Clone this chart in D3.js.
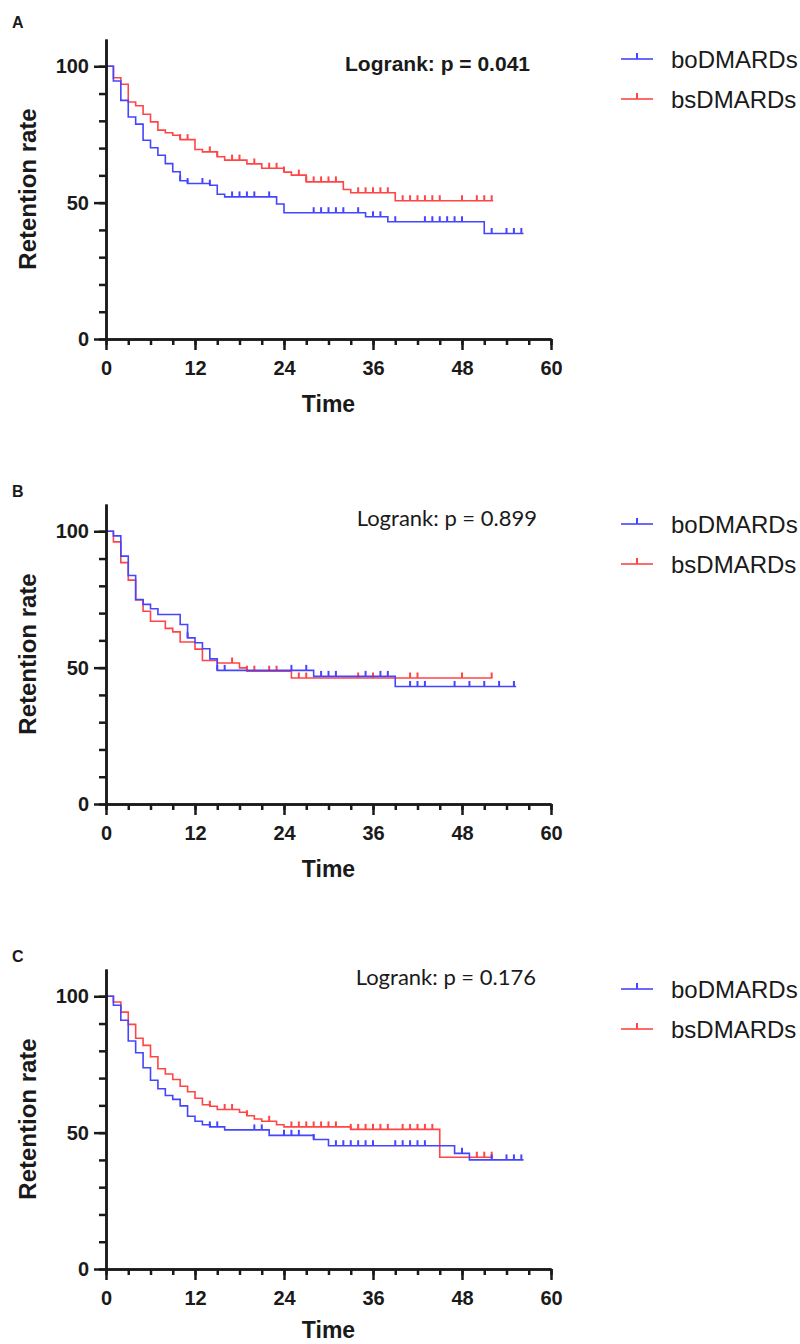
<!DOCTYPE html>
<html><head><meta charset="utf-8">
<script src="https://cdn.jsdelivr.net/npm/d3@7/dist/d3.min.js"></script>
<style>body{margin:0;background:#fff} svg{display:block}</style>
</head><body>
<script>
// ---------- DATA ----------
const groups = ["boDMARDs", "bsDMARDs"];
const xTicksMajor = [0, 12, 24, 36, 48, 60];
const yTicksMajor = [0, 50, 100];

// Panel A
const aBoTimes = [0,1,2,3,4,5,6,7,8,9,10,11,14,15,16,23,24,35,38,51,56.3];
const aBoSurv  = [100,94.6,87.5,81.4,78.8,72.9,70.1,67.4,64.3,61.3,58.0,57.0,56.4,53.1,52.1,49.5,46.3,44.8,43.0,38.7,38.7];
const aBoCens  = [10,11,13,14,17,18,19,20,22,28,29,30,31,32,34,36,37,39,43,44,45,46,47,48,52,54,55,56];
const aBsTimes = [0,1,2,3,4,5,6,7,8,9,10,12,13,15,16,19,21,24,25,27,32,33,39,52.2];
const aBsSurv  = [100,95.8,93.4,86.9,85.5,82.4,79.6,76.6,75.6,74.7,73.1,69.5,68.6,66.8,65.6,64.2,62.6,61.2,60.1,57.6,54.8,53.6,50.7,50.7];
const aBsCens  = [10,11,14,15,17,18,20,22,23,24,26,27,28,29,30,31,34,35,36,37,38,40,41,42,43,44,45,48,50,51,52];
const aTitle = "Logrank: p = 0.041";

// Panel B
const bBoTimes = [0,1,2,3,4,5,6,7,10,11,12,13,14,15,28,39,55.3];
const bBoSurv  = [100,98.3,90.9,83.8,75.0,73.2,71.6,69.5,65.8,60.9,59.1,56.9,53.2,49.0,46.8,43.1,43.1];
const bBoCens  = [11,15,16,25,27,29,30,31,35,37,38,41,42,43,47,49,51,53,55];
const bBsTimes = [0,1,2,3,4,5,6,8,9,10,12,13,15,18,19,25,52.1];
const bBsSurv  = [100,96.1,88.5,82.1,74.8,70.7,67.0,64.4,63.1,59.4,56.8,52.6,51.7,49.9,48.7,46.2,46.2];
const bBsCens  = [17,19,20,22,23,26,27,34,36,41,42,48,52];
const bTitle = "Logrank: p = 0.899";

// Panel C
const cBoTimes = [0,1,2,3,4,5,6,7,8,9,10,11,12,13,14,16,22,28,30,47,49,56.3];
const cBoSurv  = [100,96.7,91.2,83.6,79.3,73.8,69.2,66.1,63.6,62.2,59.8,56.0,54.2,52.9,52.1,51.0,49.0,47.5,45.2,42.4,40.0,40.0];
const cBoCens  = [14,15,20,21,24,25,26,28,31,32,33,34,35,36,39,40,41,42,43,48,52,54,55,56];
const cBsTimes = [0,1,2,3,4,5,6,7,8,9,10,11,12,13,14,15,18,19,20,21,23,24,33,45,52.2];
const cBsSurv  = [100,97.9,94.2,89.7,84.6,82.0,77.8,73.4,71.5,69.5,67.0,65.0,62.6,60.2,59.7,58.5,57.5,56.2,55.0,54.2,52.9,52.1,51.2,41.0,41.0];
const cBsCens  = [14,16,17,19,22,25,26,27,28,29,30,31,33,34,35,36,37,38,40,41,42,43,44,50,51,52];
const cTitle = "Logrank: p = 0.176";

// ---------- DRAW ----------
const BLUE = "#4545ff", RED = "#ff4545";
const ARIAL = "'Liberation Sans', Arial, sans-serif";
const svg = d3.select("body").append("svg").attr("width", 800).attr("height", 1344);
const x = d3.scaleLinear().domain([0, 60]).range([106, 551]);

const panels = [
  {letter:"A", letterY:28, y0:339, title:aTitle, bold:true, titleX:530, titleY:71,
   bo:[aBoTimes,aBoSurv,aBoCens], bs:[aBsTimes,aBsSurv,aBsCens]},
  {letter:"B", letterY:497, y0:804, title:bTitle, bold:false, titleX:537, titleY:526,
   bo:[bBoTimes,bBoSurv,bBoCens], bs:[bBsTimes,bBsSurv,bBsCens]},
  {letter:"C", letterY:962, y0:1269, title:cTitle, bold:false, titleX:536, titleY:985,
   bo:[cBoTimes,cBoSurv,cBoCens], bs:[cBsTimes,cBsSurv,cBsCens]}
];

function valAt(times, surv, t){
  let v = surv[0];
  for (let i=0;i<times.length;i++){ if (times[i] <= t) v = surv[i]; }
  return v;
}

panels.forEach(p => {
  const y = d3.scaleLinear().domain([0, 110]).range([p.y0, p.y0 - 300]);
  const g = svg.append("g");

  const line = d3.line().x(d => x(d[0])).y(d => y(d[1])).curve(d3.curveStepAfter);
  [[p.bs, RED], [p.bo, BLUE]].forEach(([ser, col]) => {
    const [tt, ss, cc] = ser;
    g.append("path").datum(d3.zip(tt, ss)).attr("d", line)
      .attr("fill", "none").attr("stroke", col).attr("stroke-width", 1.6);
    g.selectAll(null).data(cc).join("line")
      .attr("x1", d => x(d)).attr("x2", d => x(d))
      .attr("y1", d => y(valAt(tt, ss, d))).attr("y2", d => y(valAt(tt, ss, d)) - 5.5)
      .attr("stroke", col).attr("stroke-width", 2);
  });

  // Y axis
  const yMinor = g.append("g").attr("transform", `translate(${x(0)},0)`)
    .call(d3.axisLeft(y).tickValues(d3.range(0, 101, 10)).tickSize(7).tickSizeOuter(0).tickFormat(""));
  const yMajor = g.append("g").attr("transform", `translate(${x(0)},0)`)
    .call(d3.axisLeft(y).tickValues(yTicksMajor).tickSize(12).tickSizeOuter(0).tickPadding(5));
  // X axis
  const xMinor = g.append("g").attr("transform", `translate(0,${p.y0})`)
    .call(d3.axisBottom(x).tickValues(d3.range(0, 61, 3)).tickSize(6).tickSizeOuter(0).tickFormat(""));
  const xMajor = g.append("g").attr("transform", `translate(0,${p.y0})`)
    .call(d3.axisBottom(x).tickValues(xTicksMajor).tickSize(11).tickSizeOuter(0).tickPadding(11));
  [yMinor, yMajor, xMinor, xMajor].forEach(a => {
    a.selectAll("path,line").attr("stroke", "#1a1a1a").attr("stroke-width", 2.5);
    a.selectAll("text").attr("font-family", ARIAL).attr("font-size", 20)
      .attr("font-weight", "bold").attr("fill", "#1a1a1a");
  });

  // Axis titles
  g.append("text").attr("x", (x(0)+x(60))/2).attr("y", Math.min(p.y0 + 73, 1338))
    .attr("text-anchor", "middle").attr("font-family", ARIAL).attr("font-weight", "bold")
    .attr("font-size", 23).attr("fill", "#1a1a1a").text("Time");
  g.append("text").attr("transform", `translate(36,${p.y0 - 150}) rotate(-90)`)
    .attr("text-anchor", "middle").attr("font-family", ARIAL).attr("font-weight", "bold")
    .attr("font-size", 24).attr("fill", "#1a1a1a").text("Retention rate");

  // Panel letter
  g.append("text").attr("x", 12).attr("y", p.letterY).attr("font-family", ARIAL)
    .attr("font-weight", "bold").attr("font-size", 16).attr("fill", "#1a1a1a").text(p.letter);

  // Logrank text
  g.append("text").attr("x", p.titleX).attr("y", p.titleY).attr("text-anchor", "end")
    .attr("font-family", p.bold ? ARIAL : "Lato, 'Open Sans', sans-serif")
    .attr("font-weight", p.bold ? "bold" : "normal")
    .attr("font-size", p.bold ? 21 : 22).attr("fill", "#1a1a1a").text(p.title);

  // Legend
  const ly = p.y0 - 280;
  [[groups[0], BLUE], [groups[1], RED]].forEach(([name, col], i) => {
    const yy = ly + i * 40;
    g.append("line").attr("x1", 621).attr("x2", 653).attr("y1", yy).attr("y2", yy)
      .attr("stroke", col).attr("stroke-width", 1.6);
    g.append("line").attr("x1", 637).attr("x2", 637).attr("y1", yy).attr("y2", yy - 6)
      .attr("stroke", col).attr("stroke-width", 2);
    g.append("text").attr("x", 671).attr("y", yy + 8.5).attr("font-family", ARIAL)
      .attr("font-size", 24).attr("fill", "#1a1a1a").text(name);
  });
});
</script>
</body></html>
